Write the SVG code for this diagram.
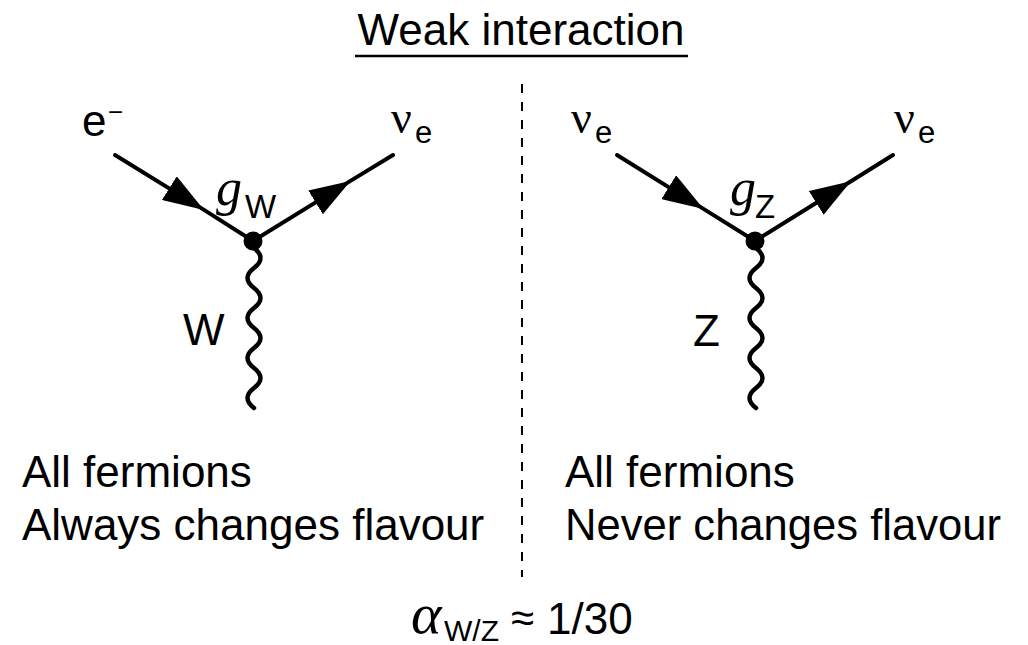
<svg xmlns="http://www.w3.org/2000/svg" width="1028" height="645" viewBox="0 0 1028 645">
<style>
.t{font-family:"Liberation Sans",Arial,sans-serif;font-size:44px;fill:#000}
.s{font-family:"Liberation Sans",Arial,sans-serif;fill:#000}
.gr{font-family:"Liberation Serif","Times New Roman",serif;fill:#000}
.it{font-family:"Liberation Serif","Times New Roman",serif;font-style:italic;fill:#000}
.f{fill:none;stroke:#000;stroke-width:4;stroke-linecap:round;stroke-linejoin:round}
.w{fill:none;stroke:#000;stroke-width:4.5;stroke-linecap:round}
</style>
<defs>
<marker id="arr" markerUnits="userSpaceOnUse" viewBox="0 0 41 28" markerWidth="41" markerHeight="28" refX="41" refY="14" orient="auto">
<path d="M0,0 L41,14 L0,28 z" fill="#000"/>
</marker>
</defs>
<rect width="1028" height="645" fill="#fff"/>
<g id="title">
<text class="t" x="521" y="45" text-anchor="middle">Weak interaction</text>
<line x1="355" y1="56" x2="688" y2="56" stroke="#000" stroke-width="2.5"/>
</g>
<g id="divider">
<line x1="522" y1="84" x2="522" y2="577" stroke="#000" stroke-width="2" stroke-dasharray="9 9"/>
</g>
<g id="connectors">
<path class="f" marker-mid="url(#arr)" d="M115,155 L204,209.9 L253,241"/>
<path class="f" marker-mid="url(#arr)" d="M253,241 L350.5,180.9 L393,155"/>
<path class="w" d="M254,248 q13,10 0,20 t0,20 t0,20 t0,20 t0,20 t0,20 t0,20 t0,20"/>
<path class="f" marker-mid="url(#arr)" d="M617,155 L703.5,208.9 L755,241"/>
<path class="f" marker-mid="url(#arr)" d="M755,241 L851,181.2 L893,155"/>
<path class="w" d="M756,248 q13,10 0,20 t0,20 t0,20 t0,20 t0,20 t0,20 t0,20 t0,20"/>
</g>
<g id="vertex-w">
<circle cx="253" cy="241" r="9.5" fill="#000"/>
<text class="it" x="216" y="205" font-size="52">g</text>
<text class="s" x="245" y="218" font-size="33">W</text>
</g>
<g id="vertex-z">
<circle cx="755" cy="241" r="9.5" fill="#000"/>
<text class="it" x="730" y="205" font-size="52">g</text>
<text class="s" x="755" y="218" font-size="33">Z</text>
</g>
<g id="electron-in">
<text class="t" x="82" y="136">e</text>
<text class="s" x="108" y="121" font-size="26">−</text>
</g>
<g id="neutrino-out-w">
<text class="gr" x="391" y="133" font-size="46">ν</text>
<text class="s" x="415" y="143" font-size="31">e</text>
</g>
<g id="neutrino-in-z">
<text class="gr" x="571" y="133" font-size="46">ν</text>
<text class="s" x="595" y="143" font-size="31">e</text>
</g>
<g id="neutrino-out-z">
<text class="gr" x="894" y="133" font-size="46">ν</text>
<text class="s" x="918" y="143" font-size="31">e</text>
</g>
<g id="boson-w">
<text class="t" x="183" y="345">W</text>
</g>
<g id="boson-z">
<text class="t" x="693" y="346">Z</text>
</g>
<g id="caption-w">
<text class="t" x="22" y="487">All fermions</text>
<text class="t" x="22" y="540">Always changes flavour</text>
</g>
<g id="caption-z">
<text class="t" x="565" y="487">All fermions</text>
<text class="t" x="565" y="540" textLength="436" lengthAdjust="spacingAndGlyphs">Never changes flavour</text>
</g>
<g id="coupling">
<text class="it" x="411" y="633" font-size="58">α</text>
<text class="s" x="444" y="641" font-size="30">W/Z</text>
<text class="s" x="511" y="632" font-size="42">≈</text>
<text class="t" x="547" y="634">1/30</text>
</g>
</svg>
